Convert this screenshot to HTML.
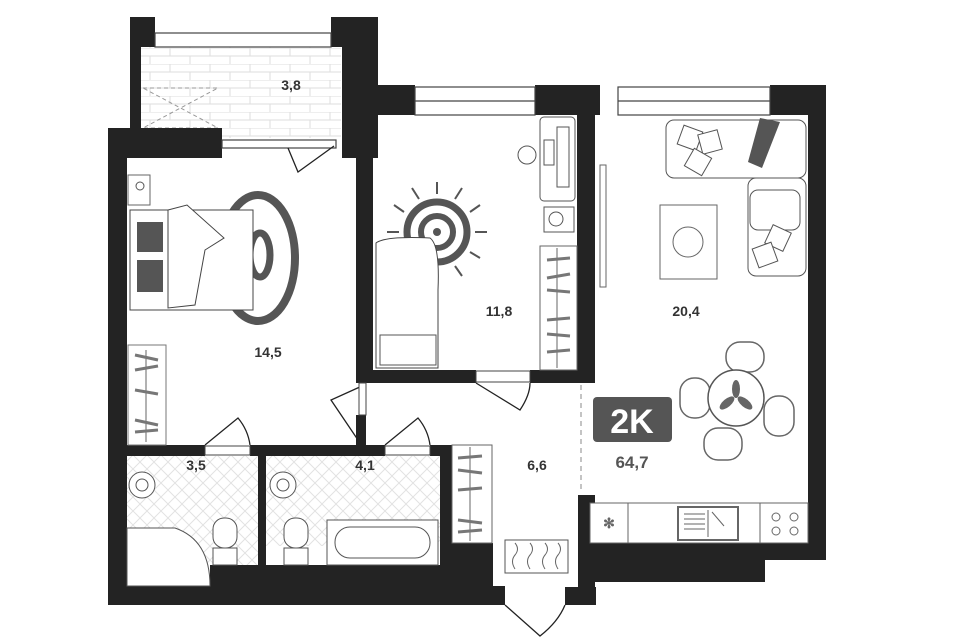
<!DOCTYPE html>
<html><head><meta charset="utf-8"><style>
html,body{margin:0;padding:0;background:#fff;width:960px;height:640px;overflow:hidden}
svg{display:block}
text{font-family:"Liberation Sans",sans-serif;font-weight:bold;fill:#333}
</style></head><body>
<svg width="960" height="640" viewBox="0 0 960 640" xmlns="http://www.w3.org/2000/svg">
<defs>
<pattern id="brick" width="40" height="16" patternUnits="userSpaceOnUse">
<rect width="40" height="16" fill="#fff"/>
<path d="M0 0H40M0 8H40M10 0V8M30 8V16" stroke="#ddd" stroke-width="1"/>
</pattern>
<pattern id="tile" width="14" height="14" patternUnits="userSpaceOnUse">
<path d="M0 0L14 14M14 0L0 14" stroke="#e2e2e2" stroke-width="1"/>
</pattern>
</defs>
<!-- floors -->
<rect x="141" y="47" width="200" height="91" fill="url(#brick)"/>
<path d="M143 88H218L143 128H218L143 88" fill="none" stroke="#999" stroke-dasharray="4 3"/>
<rect x="127" y="456" width="131" height="130" fill="url(#tile)"/>
<rect x="266" y="456" width="174" height="90" fill="url(#tile)"/>
<!-- walls -->
<g fill="#232323">
<rect x="130" y="17" width="25" height="30"/>
<rect x="130" y="17" width="11" height="113"/>
<rect x="331" y="17" width="47" height="30"/>
<rect x="342" y="17" width="36" height="141"/>
<rect x="108" y="128" width="114" height="30"/>
<rect x="108" y="128" width="19" height="477"/>
<rect x="356" y="85" width="17" height="298"/>
<rect x="356" y="85" width="59" height="30"/>
<rect x="535" y="85" width="65" height="30"/>
<rect x="770" y="85" width="56" height="30"/>
<rect x="808" y="85" width="18" height="475"/>
<rect x="577" y="100" width="18" height="282"/>
<rect x="356" y="370" width="120" height="13"/>
<rect x="530" y="370" width="65" height="13"/>
<rect x="108" y="445" width="97" height="11"/>
<rect x="250" y="445" width="135" height="11"/>
<rect x="430" y="445" width="22" height="11"/>
<rect x="258" y="456" width="8" height="130"/>
<rect x="440" y="445" width="12" height="142"/>
<rect x="210" y="565" width="283" height="22"/>
<rect x="440" y="543" width="53" height="44"/>
<rect x="108" y="586" width="397" height="19"/>
<rect x="565" y="587" width="31" height="18"/>
<rect x="578" y="495" width="17" height="110"/>
<rect x="578" y="543" width="248" height="17"/>
<rect x="578" y="560" width="187" height="22"/>
<rect x="356" y="415" width="10" height="30"/>
</g>
<!-- windows -->
<g fill="#fff" stroke="#444" stroke-width="1.2">
<rect x="155" y="33" width="176" height="14"/>
<rect x="415" y="87" width="120" height="28"/>
<line x1="415" y1="101" x2="535" y2="101"/>
<rect x="618" y="87" width="152" height="28"/>
<line x1="618" y1="101" x2="770" y2="101"/>
<rect x="222" y="140" width="114" height="8"/>
</g>
<!-- doors -->
<g fill="none" stroke="#222" stroke-width="1.3">
<path d="M288 148L298 172L334 146"/>
<path d="M205 445L238 418Q248 430 250 445"/>
<path d="M385 445L418 418Q428 430 430 445"/>
<path d="M362 386L331 400L358 440"/>
<path d="M476 383L520 410Q530 395 530 383"/>
<path d="M505 605L540 636Q558 622 565 605"/>
</g>
<g fill="#fff" stroke="#444"><rect x="205" y="446" width="45" height="9"/><rect x="385" y="446" width="45" height="9"/><rect x="476" y="371" width="54" height="11"/><rect x="359" y="383" width="7" height="32"/></g>
<!-- bedroom -->
<ellipse cx="258" cy="258" rx="37" ry="63" fill="none" stroke="#555" stroke-width="8"/>
<ellipse cx="260" cy="255" rx="10" ry="22" fill="none" stroke="#555" stroke-width="7"/>
<rect x="130" y="210" width="123" height="100" fill="#fff" stroke="#444"/>
<rect x="137" y="222" width="26" height="30" fill="#555"/>
<rect x="137" y="260" width="26" height="32" fill="#555"/>
<path d="M168 210L187 205L224 238L205 250L195 305L168 308Z" fill="#fff" stroke="#444"/>
<rect x="128" y="175" width="22" height="30" fill="none" stroke="#666"/>
<circle cx="140" cy="186" r="4" fill="none" stroke="#555"/>
<rect x="128" y="345" width="38" height="100" fill="#fff" stroke="#777"/>
<line x1="146" y1="350" x2="146" y2="442" stroke="#666"/>
<g stroke="#777" stroke-width="3"><line x1="135" y1="355" x2="158" y2="360"/><line x1="135" y1="370" x2="158" y2="366"/><line x1="135" y1="390" x2="158" y2="394"/><line x1="135" y1="420" x2="158" y2="425"/><line x1="135" y1="432" x2="158" y2="430"/></g>
<!-- room 2 -->
<g stroke="#555" stroke-width="2">
<path d="M437 182V194M462 188L455 199M480 205L470 212M487 232H475M480 258L470 252M462 276L455 266M412 188L419 199M394 205L404 212M387 232H399M394 258L404 252"/>
</g>
<circle cx="437" cy="232" r="30" fill="none" stroke="#555" stroke-width="7"/>
<circle cx="437" cy="232" r="16" fill="none" stroke="#555" stroke-width="6"/>
<circle cx="437" cy="232" r="4" fill="#555"/>
<path d="M376 243Q385 236 430 238Q440 245 438 290V368H376Z" fill="#fff" stroke="#444"/>
<rect x="380" y="335" width="56" height="30" fill="#fff" stroke="#555"/>
<rect x="540" y="117" width="35" height="84" rx="4" fill="#fff" stroke="#555"/>
<rect x="557" y="127" width="12" height="60" fill="#fff" stroke="#555"/>
<rect x="544" y="140" width="10" height="25" fill="#fff" stroke="#555"/>
<circle cx="527" cy="155" r="9" fill="#fff" stroke="#555"/>
<rect x="544" y="207" width="30" height="25" fill="#fff" stroke="#555"/>
<circle cx="556" cy="219" r="7" fill="none" stroke="#555"/>
<rect x="540" y="246" width="37" height="124" fill="#fff" stroke="#666"/>
<line x1="557" y1="248" x2="557" y2="368" stroke="#666"/>
<g stroke="#777" stroke-width="3"><line x1="547" y1="260" x2="570" y2="258"/><line x1="547" y1="278" x2="570" y2="274"/><line x1="547" y1="290" x2="570" y2="292"/><line x1="547" y1="320" x2="570" y2="318"/><line x1="547" y1="334" x2="570" y2="336"/><line x1="547" y1="352" x2="570" y2="350"/></g>
<!-- living -->
<rect x="600" y="165" width="6" height="122" fill="#fff" stroke="#666"/>
<rect x="666" y="120" width="140" height="58" rx="8" fill="#fff" stroke="#555"/>
<rect x="748" y="178" width="58" height="98" rx="8" fill="#fff" stroke="#555"/>
<rect x="750" y="190" width="50" height="40" rx="8" fill="#fff" stroke="#555"/>
<path d="M760 118L780 122L762 168L748 162Z" fill="#555"/>
<g fill="#fff" stroke="#555"><rect x="680" y="128" width="20" height="20" transform="rotate(20 690 138)"/><rect x="700" y="132" width="20" height="20" transform="rotate(-15 710 142)"/><rect x="688" y="152" width="20" height="20" transform="rotate(30 698 162)"/><rect x="768" y="228" width="20" height="20" transform="rotate(25 778 238)"/><rect x="755" y="245" width="20" height="20" transform="rotate(-20 765 255)"/></g>
<rect x="660" y="205" width="57" height="74" fill="#fff" stroke="#666"/>
<circle cx="688" cy="242" r="15" fill="none" stroke="#666"/>
<g fill="#fff" stroke="#666" stroke-width="1.5">
<rect x="726" y="342" width="38" height="30" rx="14"/>
<rect x="680" y="378" width="30" height="40" rx="14"/>
<rect x="764" y="396" width="30" height="40" rx="14"/>
<rect x="704" y="428" width="38" height="32" rx="14"/>
</g>
<circle cx="736" cy="398" r="28" fill="#fff" stroke="#555" stroke-width="1.5"/>
<g fill="#666"><ellipse cx="736" cy="389" rx="4" ry="9"/><ellipse cx="727" cy="403" rx="4" ry="9" transform="rotate(50 727 403)"/><ellipse cx="745" cy="403" rx="4" ry="9" transform="rotate(-50 745 403)"/></g>
<line x1="581" y1="385" x2="581" y2="492" stroke="#888" stroke-dasharray="5 4"/>
<rect x="593" y="397" width="79" height="45" rx="4" fill="#555"/>
<text x="632" y="433" text-anchor="middle" style="fill:#fff;font-size:34px">2K</text>
<text x="632" y="468" text-anchor="middle" style="font-size:17px;fill:#555">64,7</text>
<!-- kitchen -->
<rect x="590" y="503" width="218" height="40" fill="#fff" stroke="#666"/>
<g stroke="#666" fill="none"><line x1="628" y1="503" x2="628" y2="543"/><line x1="760" y1="503" x2="760" y2="543"/><rect x="678" y="507" width="60" height="33" stroke-width="2"/><line x1="708" y1="510" x2="708" y2="537"/><line x1="712" y1="512" x2="724" y2="526"/>
<path d="M684 514H705M684 519H705M684 524H705M684 529H705"/>
<circle cx="776" cy="517" r="4"/><circle cx="794" cy="517" r="4"/><circle cx="776" cy="531" r="4"/><circle cx="794" cy="531" r="4"/></g>
<text x="609" y="528" text-anchor="middle" style="font-size:14px;fill:#666">✻</text>
<!-- baths -->
<circle cx="142" cy="485" r="13" fill="#fff" stroke="#555"/><circle cx="142" cy="485" r="6" fill="none" stroke="#555"/>
<circle cx="283" cy="485" r="13" fill="#fff" stroke="#555"/><circle cx="283" cy="485" r="6" fill="none" stroke="#555"/>
<path d="M127 528H175Q210 540 210 586H127Z" fill="#fff" stroke="#555"/>
<rect x="213" y="518" width="24" height="30" rx="11" fill="#fff" stroke="#555"/>
<rect x="213" y="548" width="24" height="17" fill="#fff" stroke="#555"/>
<rect x="284" y="518" width="24" height="30" rx="11" fill="#fff" stroke="#555"/>
<rect x="284" y="548" width="24" height="17" fill="#fff" stroke="#555"/>
<rect x="327" y="520" width="111" height="45" fill="#fff" stroke="#555"/>
<rect x="335" y="527" width="95" height="31" rx="15" fill="#fff" stroke="#555"/>
<!-- hallway -->
<rect x="452" y="445" width="40" height="98" fill="#fff" stroke="#666"/>
<line x1="470" y1="447" x2="470" y2="541" stroke="#666"/>
<g stroke="#777" stroke-width="3"><line x1="458" y1="458" x2="482" y2="456"/><line x1="458" y1="470" x2="482" y2="473"/><line x1="458" y1="490" x2="482" y2="488"/><line x1="458" y1="520" x2="482" y2="523"/><line x1="458" y1="532" x2="482" y2="530"/></g>
<rect x="505" y="540" width="63" height="33" fill="#fff" stroke="#555"/>
<path d="M515 543q5 6 0 12t0 14M530 543q5 6 0 12t0 14M545 543q5 6 0 12t0 14M558 543q5 6 0 12t0 14" fill="none" stroke="#666"/>
<!-- labels -->
<g style="font-size:14px">
<text x="291" y="90" text-anchor="middle">3,8</text>
<text x="268" y="357" text-anchor="middle">14,5</text>
<text x="499" y="316" text-anchor="middle">11,8</text>
<text x="686" y="316" text-anchor="middle">20,4</text>
<text x="196" y="470" text-anchor="middle">3,5</text>
<text x="365" y="470" text-anchor="middle">4,1</text>
<text x="537" y="470" text-anchor="middle">6,6</text>
</g>
</svg>
</body></html>
